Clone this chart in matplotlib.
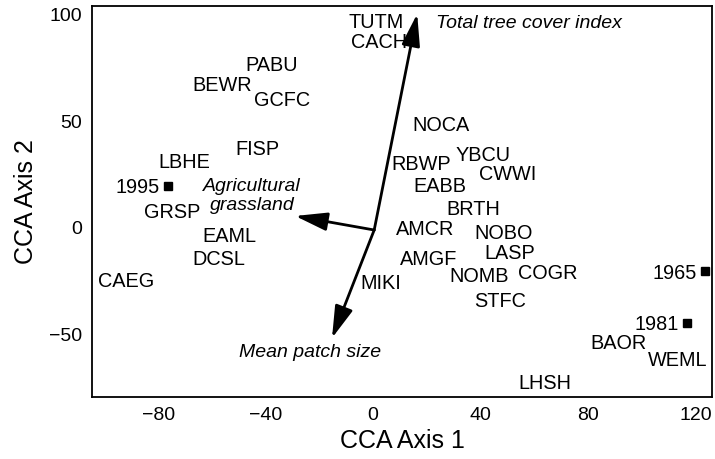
import matplotlib
matplotlib.use('Agg')
import matplotlib.pyplot as plt

plt.rcParams['font.family'] = ['Liberation Sans', 'DejaVu Sans']

# Species scores (CCA axis 1, axis 2)
species = ['TUTM', 'CACH', 'PABU', 'BEWR', 'GCFC', 'FISP', 'LBHE', 'GRSP',
           'EAML', 'DCSL', 'CAEG', 'NOCA', 'YBCU', 'RBWP', 'CWWI', 'EABB',
           'BRTH', 'AMCR', 'NOBO', 'LASP', 'AMGF', 'NOMB', 'COGR', 'MIKI',
           'STFC', 'BAOR', 'WEML', 'LHSH']
sp_x = [1.1, 2.2, -37.6, -56.2, -33.9, -43.2, -70.3, -74.8,
        -53.6, -57.3, -91.9, 25.4, 41.0, 17.9, 50.0, 24.9,
        37.2, 19.3, 48.4, 51.0, 20.5, 39.4, 65.1, 3.0,
        47.3, 91.2, 113.5, 64.0]
sp_y = [97.6, 87.8, 77.4, 68.0, 60.5, 37.5, 31.4, 8.3,
        -3.0, -13.8, -24.2, 49.2, 35.1, 30.4, 25.7, 20.1,
        9.7, 0.3, -2.0, -11.0, -13.8, -21.8, -20.4, -25.2,
        -33.6, -53.7, -61.7, -72.1]

# Year scores
years = ['1995', '1965', '1981']
yr_x = [-76.3, 123.5, 116.8]
yr_y = [19.6, -20.4, -44.8]

# Environmental vectors
origin = (0.4, -1.1)
env_names = ['Total tree cover index', 'Agricultural\ngrassland', 'Mean patch size']
env_x = [16.4, -29.0, -15.3]
env_y = [100.5, 5.5, -51.9]
env_lab_x = [58.0, -45.0, -23.4]
env_lab_y = [96.2, 14.9, -58.9]

fig = plt.figure(figsize=(7.15, 4.59), dpi=100)
ax = fig.add_axes([0.1287, 0.1351, 0.8671, 0.8518])

for name, x, y in zip(species, sp_x, sp_y):
    ax.text(x, y, name, fontsize=14.3, ha='center', va='center_baseline')

ax.plot(yr_x, yr_y, 's', color='black', markersize=6)
for name, x, y in zip(years, yr_x, yr_y):
    ax.annotate(name, (x, y), xytext=(-6, 0), textcoords='offset points',
                fontsize=14.3, ha='right', va='center_baseline')

for ex, ey in zip(env_x, env_y):
    ax.annotate('', xy=(ex, ey), xytext=origin,
                arrowprops=dict(arrowstyle='-|>,head_length=1.4,head_width=0.4',
                                lw=2, color='black', shrinkA=0, shrinkB=0,
                                mutation_scale=14))
for name, x, y in zip(env_names, env_lab_x, env_lab_y):
    ax.text(x, y, name, fontsize=14, style='italic', ha='center',
            va='center', linespacing=1.1)

ax.set_xlim(-104.6, 126.1)
ax.set_ylim(-79.6, 104.2)
ax.set_xticks([-80, -40, 0, 40, 80, 120])
ax.set_yticks([-50, 0, 50, 100])
ax.set_xticklabels(['\u221280', '\u221240', '0', '40', '80', '120'])
ax.set_yticklabels(['\u221250', '0', '50', '100'])
ax.tick_params(length=0, labelsize=14, pad=7)
for s in ax.spines.values():
    s.set_linewidth(1.3)

ax.set_xlabel('CCA Axis 1', fontsize=18, labelpad=4)
ax.set_ylabel('CCA Axis 2', fontsize=18, labelpad=8)

fig.savefig('out.png', dpi=100)
